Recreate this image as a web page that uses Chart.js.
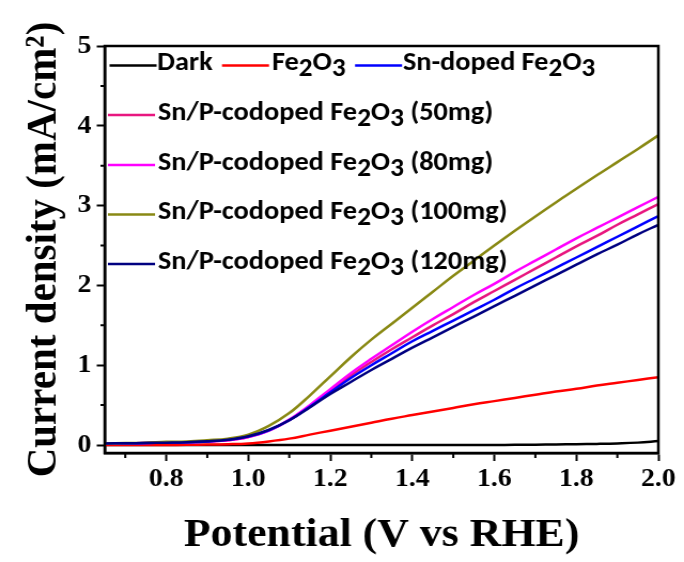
<!DOCTYPE html>
<html>
<head>
<meta charset="utf-8">
<script src="https://cdn.jsdelivr.net/npm/chart.js@4/dist/chart.umd.min.js"></script>
<style>
  html,body{margin:0;padding:0;background:#fff;overflow:hidden;}
  #wrap{width:640px;height:562px;transform:scaleX(1.06875);transform-origin:0 0;}
  canvas{display:block;}
</style>
</head>
<body>
<div id="wrap"><canvas id="c" width="640" height="562"></canvas></div>
<script>
// ---- data ----
const potential = [0.65,0.70,0.75,0.80,0.85,0.90,0.95,1.00,1.05,1.10,1.15,1.20,1.25,1.30,1.35,1.40,1.45,1.50,1.55,1.60,1.65,1.70,1.75,1.80,1.85,1.90,1.95,2.00];
const seriesLabels = ['Dark','Fe₂O₃','Sn-doped Fe₂O₃','Sn/P-codoped Fe₂O₃ (50mg)','Sn/P-codoped Fe₂O₃ (80mg)','Sn/P-codoped Fe₂O₃ (100mg)','Sn/P-codoped Fe₂O₃ (120mg)'];
const dark    = [0,0,0,0,0,0,0,0,0,0,0,0,0,0,0,0,0,0,0,0,0.002,0.004,0.007,0.01,0.014,0.02,0.03,0.05];
const fe2o3   = [0,0,0,0,0.003,0.005,0.01,0.02,0.045,0.08,0.13,0.18,0.23,0.28,0.33,0.375,0.42,0.465,0.51,0.55,0.59,0.63,0.67,0.705,0.745,0.78,0.815,0.85];
const snDoped = [0.02,0.022,0.025,0.03,0.035,0.045,0.065,0.105,0.185,0.31,0.48,0.66,0.84,1.0,1.15,1.3,1.43,1.56,1.69,1.82,1.96,2.09,2.22,2.35,2.48,2.61,2.74,2.87];
const snP50   = [0.02,0.022,0.025,0.03,0.035,0.045,0.06,0.1,0.18,0.31,0.49,0.68,0.87,1.04,1.2,1.35,1.5,1.64,1.79,1.93,2.07,2.21,2.35,2.49,2.62,2.76,2.89,3.02];
const snP80   = [0.02,0.022,0.025,0.03,0.035,0.045,0.06,0.1,0.18,0.32,0.5,0.7,0.9,1.08,1.25,1.42,1.58,1.73,1.88,2.02,2.17,2.31,2.45,2.59,2.72,2.85,2.98,3.11];
const snP100  = [0.02,0.025,0.03,0.04,0.045,0.06,0.08,0.13,0.24,0.4,0.62,0.86,1.1,1.32,1.52,1.72,1.92,2.12,2.31,2.5,2.685,2.865,3.04,3.21,3.38,3.545,3.71,3.88];
const snP120  = [0.02,0.022,0.025,0.03,0.036,0.046,0.066,0.11,0.19,0.31,0.47,0.64,0.79,0.94,1.08,1.22,1.35,1.48,1.61,1.74,1.87,2.0,2.13,2.26,2.39,2.51,2.64,2.76];
const xMajorTicks = [0.8,1.0,1.2,1.4,1.6,1.8,2.0];
const xMinorTicks = [0.7,0.9,1.1,1.3,1.5,1.7,1.9];
const yMajorTicks = [0,1,2,3,4,5];
const yMinorTicks = [0.5,1.5,2.5,3.5,4.5];
const xTitle = 'Potential (V vs RHE)';
const yTitle = 'Current density (mA/cm²)';

// ---- styling ----
const seriesValues = [dark, fe2o3, snDoped, snP50, snP80, snP100, snP120];
const colors = ['#000000','#ff0000','#0000ff','#e8177f','#ff00ff','#898914','#000080'];
const drawOrder = [6,5,2,4,3,1,0];
const legendSpots = [
  {lx:102.5, tx:147, y:65.5},
  {lx:207.7, tx:254.5, y:65.5},
  {lx:332.2, tx:377, y:65.5},
  {lx:101, tx:147.8, y:115},
  {lx:101, tx:147.8, y:165},
  {lx:101, tx:147.8, y:214.5},
  {lx:101, tx:147.8, y:264}
];
const legendLineLen = 44;
const legendFont = 'bold 26.5px Carlito, Lato, sans-serif';
const legendSubFont = 'bold 25.5px Carlito, Lato, sans-serif';
const serif = 'Liberation Serif';

Chart.defaults.color = '#000';

function drawRich(ctx, text, x, y) {
  const sub = '₀₁₂₃₄₅₆₇₈₉';
  let cx = x;
  const parts = text.match(/[₀-₉]+|[^₀-₉]+/g);
  for (const seg of parts) {
    if (sub.includes(seg[0])) {
      const s = [...seg].map(c => sub.indexOf(c)).join('');
      ctx.font = legendSubFont;
      ctx.fillText(s, cx, y + 6);
      cx += ctx.measureText(s).width;
    } else {
      ctx.font = legendFont;
      ctx.fillText(seg, cx, y);
      cx += ctx.measureText(seg).width;
    }
  }
}

const framePlugin = {
  id: 'frame',
  afterDatasetsDraw(chart) {
    const {ctx, chartArea: a, scales: {x, y}} = chart;
    ctx.save();
    ctx.strokeStyle = '#000';
    ctx.lineWidth = 2.5;
    ctx.strokeRect(a.left, a.top, a.right - a.left, a.bottom - a.top);
    ctx.lineWidth = 2;
    ctx.beginPath();
    xMinorTicks.forEach(v => { const p = x.getPixelForValue(v); ctx.moveTo(p, a.bottom); ctx.lineTo(p, a.bottom + 5); });
    yMinorTicks.forEach(v => { const p = y.getPixelForValue(v); ctx.moveTo(a.left, p); ctx.lineTo(a.left - 4, p); });
    ctx.stroke();
    ctx.restore();
  },
  afterDraw(chart) {
    const ctx = chart.ctx;
    ctx.save();
    chart.data.datasets.forEach((ds, i) => {
      const s = legendSpots[i];
      ctx.strokeStyle = ds.borderColor;
      ctx.lineWidth = 2.5;
      ctx.beginPath();
      ctx.moveTo(s.lx, s.y);
      ctx.lineTo(s.lx + legendLineLen, s.y);
      ctx.stroke();
      ctx.fillStyle = '#000';
      ctx.textBaseline = 'alphabetic';
      ctx.textAlign = 'left';
      drawRich(ctx, ds.label, s.tx, s.y + 4.5);
    });
    ctx.restore();
  }
};

const datasets = seriesValues.map((vals, i) => ({
  label: seriesLabels[i],
  data: potential.map((p, k) => ({x: p, y: vals[k]})),
  borderColor: colors[i],
  backgroundColor: colors[i],
  borderWidth: 2.5,
  pointRadius: 0,
  fill: false,
  tension: 0.4,
  order: drawOrder[i]
}));

new Chart(document.getElementById('c'), {
  type: 'line',
  data: {datasets},
  plugins: [framePlugin],
  options: {
    responsive: false,
    animation: false,
    devicePixelRatio: 1,
    layout: {padding: {top: 46, right: 24, left: 0, bottom: 0}},
    plugins: {legend: {display: false}, tooltip: {enabled: false}},
    scales: {
      x: {
        type: 'linear', min: 0.65, max: 2.0,
        afterBuildTicks: s => { s.ticks = xMajorTicks.map(v => ({value: v})); },
        afterFit: s => { s.height = 109; },
        ticks: {font: {family: serif, weight: 'bold', size: 26}, color: '#000', padding: 3, maxRotation: 0, autoSkip: false,
                callback: v => Number(v).toFixed(1)},
        grid: {drawOnChartArea: false, drawTicks: true, tickLength: 8, tickWidth: 2, tickColor: '#000', color: '#000'},
        border: {display: true, color: '#000', width: 2.5},
        title: {display: true, text: xTitle, color: '#000', font: {family: serif, weight: 'bold', size: 41}, padding: {top: 0, bottom: 2}}
      },
      y: {
        type: 'linear', min: -0.1, max: 5,
        afterBuildTicks: s => { s.ticks = yMajorTicks.map(v => ({value: v})); },
        afterFit: s => { s.width = 98; },
        ticks: {font: {family: serif, weight: 'bold', size: 26}, color: '#000', padding: 5,
                callback: v => String(v)},
        grid: {drawOnChartArea: false, drawTicks: true, tickLength: 7.5, tickWidth: 2, tickColor: '#000', color: '#000'},
        border: {display: true, color: '#000', width: 2.5},
        title: {display: true, text: yTitle, color: '#000', font: {family: serif, weight: 'bold', size: 41}, padding: {top: 17, bottom: 0}}
      }
    }
  }
});
</script>
</body>
</html>
